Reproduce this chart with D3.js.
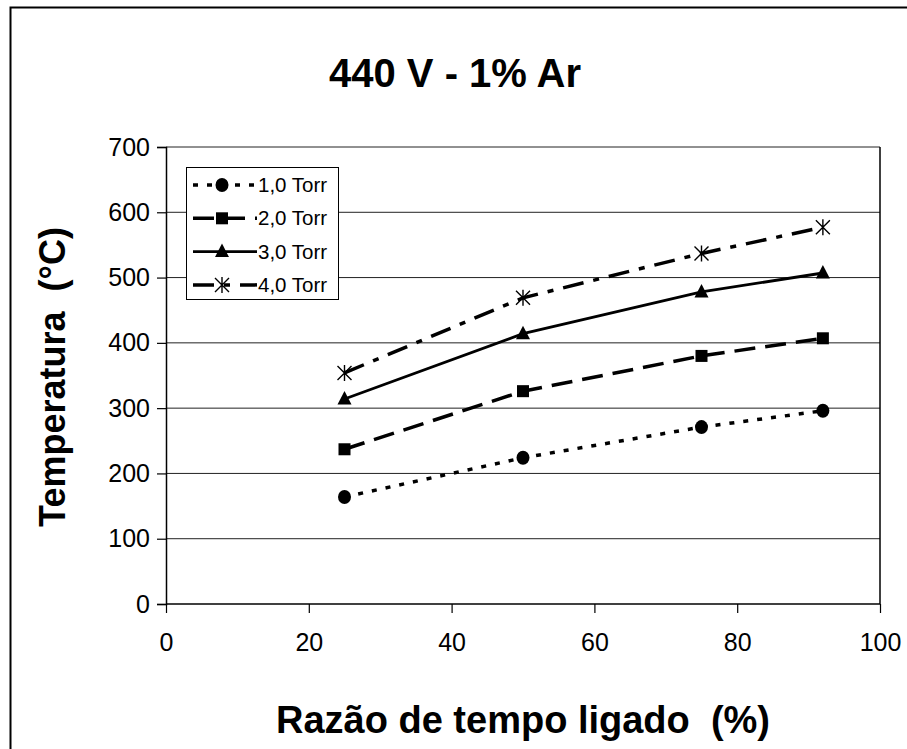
<!DOCTYPE html>
<html><head><meta charset="utf-8">
<script src="https://cdn.jsdelivr.net/npm/d3@7/dist/d3.min.js"></script>
<style>body{margin:0;background:#fff}svg{display:block}text{font-family:"Liberation Sans",Arial,sans-serif}</style>
</head><body>
<script>
const title = "440 V - 1% Ar";
const xLabel = "Razão de tempo ligado\u00A0\u00A0(%)";
const yLabel = "Temperatura\u00A0\u00A0(°C)";
const xValues = [25, 50, 75, 92];
const seriesNames = ["1,0 Torr", "2,0 Torr", "3,0 Torr", "4,0 Torr"];
const torr1 = [164, 224, 271, 296];
const torr2 = [237, 326, 380, 407];
const torr3 = [314, 414, 478, 507];
const torr4 = [354, 469, 537, 577];
const xTicks = [0, 20, 40, 60, 80, 100];
const yTicks = [0, 100, 200, 300, 400, 500, 600, 700];

const W = 907, H = 749;
const m = {left: 166, right: 880, top: 147, bottom: 604};
const svg = d3.select("body").append("svg").attr("width", W).attr("height", H);
svg.append("rect").attr("width", W).attr("height", H).attr("fill", "#fff");
// outer frame
svg.append("rect").attr("x", 10.5).attr("y", 7.5).attr("width", 920).attr("height", 760)
  .attr("fill", "none").attr("stroke", "#000").attr("stroke-width", 2);

const x = d3.scaleLinear().domain([0, 100]).range([m.left, m.right]);
const y = d3.scaleLinear().domain([0, 700]).range([m.bottom, m.top]);

// gridlines
svg.append("g").selectAll("line").data(yTicks.filter(d => d > 0)).join("line")
  .attr("x1", m.left).attr("x2", m.right).attr("y1", d => y(d)).attr("y2", d => y(d))
  .attr("stroke", "#222").attr("stroke-width", 1);
// plot border right
svg.append("line").attr("x1", m.right).attr("x2", m.right).attr("y1", m.top).attr("y2", m.bottom)
  .attr("stroke", "#000").attr("stroke-width", 1.5);

// axes
const yAxis = svg.append("g").attr("transform", `translate(${m.left},0)`)
  .call(d3.axisLeft(y).tickValues(yTicks).tickSize(9).tickPadding(7));
const xAxis = svg.append("g").attr("transform", `translate(0,${m.bottom})`)
  .call(d3.axisBottom(x).tickValues(xTicks).tickSize(9).tickPadding(20));
[yAxis, xAxis].forEach(a => {
  a.select(".domain").attr("stroke", "#000").attr("stroke-width", 1.5);
  a.selectAll(".tick line").attr("stroke", "#000").attr("stroke-width", 1.2);
  a.selectAll("text").attr("font-size", 25).attr("fill", "#000")
   .style("font-family", '"Liberation Sans",Arial,sans-serif');
});
xAxis.selectAll(".domain").attr("d", `M${m.left},0H${m.right}`);

// titles
svg.append("text").attr("x", 455).attr("y", 87).attr("text-anchor", "middle")
  .attr("font-size", 40).attr("font-weight", "bold").text(title);
svg.append("text").attr("x", 523).attr("y", 733).attr("text-anchor", "middle")
  .attr("font-size", 38).attr("font-weight", "bold").text(xLabel);
svg.append("text").attr("transform", "translate(65,377) rotate(-90)").attr("text-anchor", "middle")
  .attr("font-size", 36).attr("font-weight", "bold").text(yLabel);

const series = [
  {name: seriesNames[0], vals: torr1, dash: "5,9", width: 3.5, marker: "circle"},
  {name: seriesNames[1], vals: torr2, dash: "21,10", width: 3.5, marker: "square"},
  {name: seriesNames[2], vals: torr3, dash: null, width: 2.8, marker: "triangle"},
  {name: seriesNames[3], vals: torr4, dash: "21,10,6,10", width: 3.5, marker: "star"}
];

function drawMarker(g, type, cx, cy) {
  if (type === "circle") {
    g.append("ellipse").attr("cx", cx).attr("cy", cy).attr("rx", 6.5).attr("ry", 7).attr("fill", "#000");
  } else if (type === "square") {
    g.append("rect").attr("x", cx - 6).attr("y", cy - 6).attr("width", 12).attr("height", 12).attr("fill", "#000");
  } else if (type === "triangle") {
    g.append("path").attr("d", `M${cx},${cy - 8}L${cx + 7},${cy + 5.5}L${cx - 7},${cy + 5.5}Z`).attr("fill", "#000");
  } else {
    const s = 7;
    g.append("path").attr("d",
      `M${cx - s},${cy - s}L${cx + s},${cy + s}M${cx - s},${cy + s}L${cx + s},${cy - s}M${cx},${cy - s - 1}L${cx},${cy + s + 1}`)
      .attr("stroke", "#000").attr("stroke-width", 1.4).attr("fill", "none");
  }
}

const line = d3.line().x(d => x(d[0])).y(d => y(d[1]));
series.forEach(s => {
  const pts = xValues.map((xv, i) => [xv, s.vals[i]]);
  svg.append("path").datum(pts).attr("d", line).attr("fill", "none").attr("stroke", "#000")
    .attr("stroke-width", s.width).attr("stroke-dasharray", s.dash);
  const g = svg.append("g");
  pts.forEach(p => drawMarker(g, s.marker, x(p[0]), y(p[1])));
});

// legend
const lg = svg.append("g");
lg.append("rect").attr("x", 186.5).attr("y", 167.5).attr("width", 152).attr("height", 132)
  .attr("fill", "#fff").attr("stroke", "#000").attr("stroke-width", 1);
series.forEach((s, i) => {
  const cy = 185 + i * 33.3;
  lg.append("line").attr("x1", 193).attr("x2", 257).attr("y1", cy).attr("y2", cy)
    .attr("stroke", "#000").attr("stroke-width", s.width).attr("stroke-dasharray", s.dash);
  drawMarker(lg, s.marker, 222, cy);
  lg.append("text").attr("x", 258).attr("y", cy + 7).attr("font-size", 20.5).text(s.name);
});
</script>
</body></html>
